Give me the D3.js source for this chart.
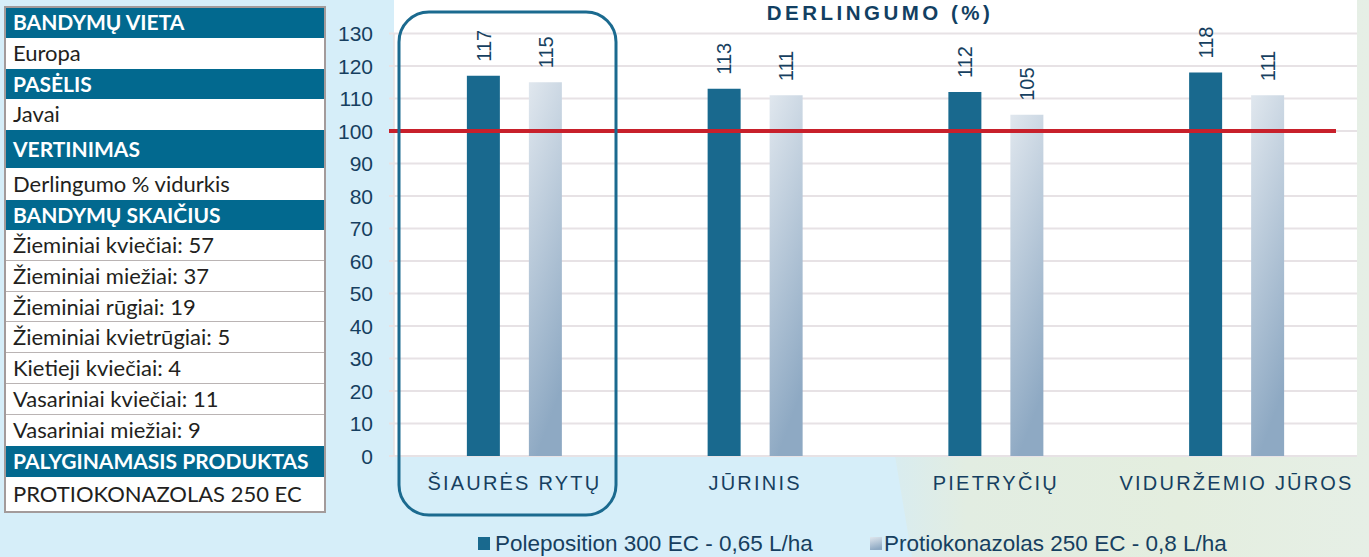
<!DOCTYPE html>
<html><head><meta charset="utf-8">
<script src="https://cdn.jsdelivr.net/npm/d3@7/dist/d3.min.js"></script>
<style>html,body{margin:0;padding:0;background:#d6eef9;}svg{display:block}</style>
</head><body>
<svg id="c" width="1369" height="557"></svg>
<script>
const categories = ["ŠIAURĖS RYTŲ", "JŪRINIS", "PIETRYČIŲ", "VIDURŽEMIO JŪROS"];
const polepositionValues = [117, 113, 112, 118];
const protiokonazolasValues = [115, 111, 105, 111];
const seriesNames = ["Poleposition 300 EC - 0,65 L/ha", "Protiokonazolas 250 EC - 0,8 L/ha"];
const yTicks = [0,10,20,30,40,50,60,70,80,90,100,110,120,130];
const referenceValue = 100;
const chartTitle = "DERLINGUMO (%)";
const tableRows = [
  {t:"BANDYMŲ VIETA", h:true}, {t:"Europa"},
  {t:"PASĖLIS", h:true}, {t:"Javai"},
  {t:"VERTINIMAS", h:true}, {t:"Derlingumo % vidurkis"},
  {t:"BANDYMŲ SKAIČIUS", h:true},
  {t:"Žieminiai kviečiai: 57"}, {t:"Žieminiai miežiai: 37"}, {t:"Žieminiai rūgiai: 19"},
  {t:"Žieminiai kvietrūgiai: 5"}, {t:"Kietieji kviečiai: 4"}, {t:"Vasariniai kviečiai: 11"},
  {t:"Vasariniai miežiai: 9"},
  {t:"PALYGINAMASIS PRODUKTAS", h:true}, {t:"PROTIOKONAZOLAS 250 EC"}
];
const rowEdges = [7,38,69,99,130,168,200,230,261,292,322,353,384,415,446,477,512];

const svg = d3.select("#c");
const defs = svg.append("defs");
const lg = defs.append("linearGradient").attr("id","lightBar").attr("x1",0).attr("y1",0).attr("x2",0.25).attr("y2",1);
lg.append("stop").attr("offset",0).attr("stop-color","#e0e7ee");
lg.append("stop").attr("offset",1).attr("stop-color","#8ea9c3");
const pg = defs.append("linearGradient").attr("id","photo").attr("x1",0).attr("y1",0).attr("x2",1).attr("y2",0);
pg.append("stop").attr("offset",0).attr("stop-color","#d9ecef");
pg.append("stop").attr("offset",0.15).attr("stop-color","#e2ede2");
pg.append("stop").attr("offset",0.6).attr("stop-color","#e4eedf");
pg.append("stop").attr("offset",1).attr("stop-color","#e6efe6");

const darkColor = "#19698e";
const textColor = "#163f60";
const font = "Liberation Sans, Arial, sans-serif";

// background photo hint
svg.append("path").attr("d","M895,456 L912,557 L1369,557 L1369,0 L1357,0 L1357,456 Z")
  .attr("fill","url(#photo)");

const x = d3.scaleBand().domain(categories).range([394,1357]).padding(0);
const y = d3.scaleLinear().domain([0,130]).range([456,33.5]);

// plot area
svg.append("rect").attr("x",394).attr("y",0).attr("width",963).attr("height",y(0)).attr("fill","#ffffff");

// grid
svg.append("g").selectAll("line").data(yTicks).join("line")
  .attr("x1",389).attr("x2",1357).attr("y1",d=>y(d)).attr("y2",d=>y(d))
  .attr("stroke","#e7e2e5").attr("stroke-width",2);
svg.append("line").attr("x1",394).attr("x2",394).attr("y1",y(130)).attr("y2",y(0)).attr("stroke","#e3e0e2").attr("stroke-width",1.5);

// y tick labels
svg.append("g").selectAll("text").data(yTicks).join("text")
  .attr("x",373).attr("y",d=>y(d)).attr("dy","0.36em").attr("text-anchor","end")
  .attr("font-family",font).attr("font-size",21).attr("fill",textColor)
  .text(d=>d);

// bars
const bw = 33, off = 31;
const gBars = svg.append("g");
categories.forEach((c,i)=>{
  const cx = x(c) + x.bandwidth()/2;
  gBars.append("rect").attr("x",cx-off-bw/2).attr("y",y(polepositionValues[i])).attr("width",bw)
    .attr("height",y(0)-y(polepositionValues[i])).attr("fill",darkColor);
  gBars.append("rect").attr("x",cx+off-bw/2).attr("y",y(protiokonazolasValues[i])).attr("width",bw)
    .attr("height",y(0)-y(protiokonazolasValues[i])).attr("fill","url(#lightBar)");
  [[cx-off,polepositionValues[i]],[cx+off,protiokonazolasValues[i]]].forEach(([bx,v])=>{
    const ty = y(v)-14;
    gBars.append("text").attr("transform",`translate(${bx},${ty}) rotate(-90)`)
      .attr("dy","0.36em").attr("text-anchor","start")
      .attr("font-family",font).attr("font-size",20).attr("fill",textColor)
      .text(v);
  });
});

// reference line
svg.append("line").attr("x1",389).attr("x2",1336).attr("y1",y(referenceValue)).attr("y2",y(referenceValue))
  .attr("stroke","#c8202b").attr("stroke-width",4);

// category labels
svg.append("g").selectAll("text").data(categories).join("text")
  .attr("x",d=>x(d)+x.bandwidth()/2).attr("y",490).attr("text-anchor","middle")
  .attr("font-family",font).attr("font-size",20).attr("letter-spacing",2.2)
  .attr("fill",textColor).text(d=>d);

// highlight box
svg.append("rect").attr("x",x(categories[0])+5).attr("y",12).attr("width",217).attr("height",503)
  .attr("rx",30).attr("ry",30).attr("fill","none").attr("stroke","#1b6a8f").attr("stroke-width",3);

// title
svg.append("text").attr("x",880).attr("y",20).attr("text-anchor","middle")
  .attr("font-family",font).attr("font-size",20.5).attr("font-weight","bold")
  .attr("letter-spacing",3.5).attr("fill","#123f62").text(chartTitle);

// legend
const lgG = svg.append("g");
lgG.append("rect").attr("x",478).attr("y",537).attr("width",12).attr("height",13).attr("fill",darkColor);
lgG.append("text").attr("x",495).attr("y",551).attr("font-family",font)
  .attr("font-size",22.5).attr("fill",textColor).text(seriesNames[0]);
lgG.append("rect").attr("x",870).attr("y",537).attr("width",12).attr("height",13).attr("fill","url(#lightBar)");
lgG.append("text").attr("x",884).attr("y",551).attr("font-family",font)
  .attr("font-size",22.5).attr("fill",textColor).text(seriesNames[1]);

// table
const tG = svg.append("g");
tableRows.forEach((r,i)=>{
  const y0 = rowEdges[i], y1 = rowEdges[i+1];
  tG.append("rect").attr("x",5).attr("y",y0).attr("width",320).attr("height",y1-y0)
    .attr("fill", r.h ? "#02698f" : "#ffffff");
  if(!r.h && !(tableRows[i+1] && tableRows[i+1].h) && i < tableRows.length-1){
    tG.append("line").attr("x1",5).attr("x2",325).attr("y1",y1).attr("y2",y1).attr("stroke","#a39b9b").attr("stroke-width",1.5);
  }
  tG.append("text").attr("x",13).attr("y",(y0+y1)/2).attr("dy","0.36em")
    .attr("font-family","Lato, sans-serif").attr("font-size", r.h ? 21 : 22)
    .attr("font-weight", r.h ? "bold" : "normal")
    .attr("fill", r.h ? "#ffffff" : "#231f20").text(r.t);
});
tG.append("rect").attr("x",5).attr("y",rowEdges[0]).attr("width",320).attr("height",rowEdges[rowEdges.length-1]-rowEdges[0])
  .attr("fill","none").attr("stroke","#a39b9b").attr("stroke-width",2);
</script>
</body></html>
